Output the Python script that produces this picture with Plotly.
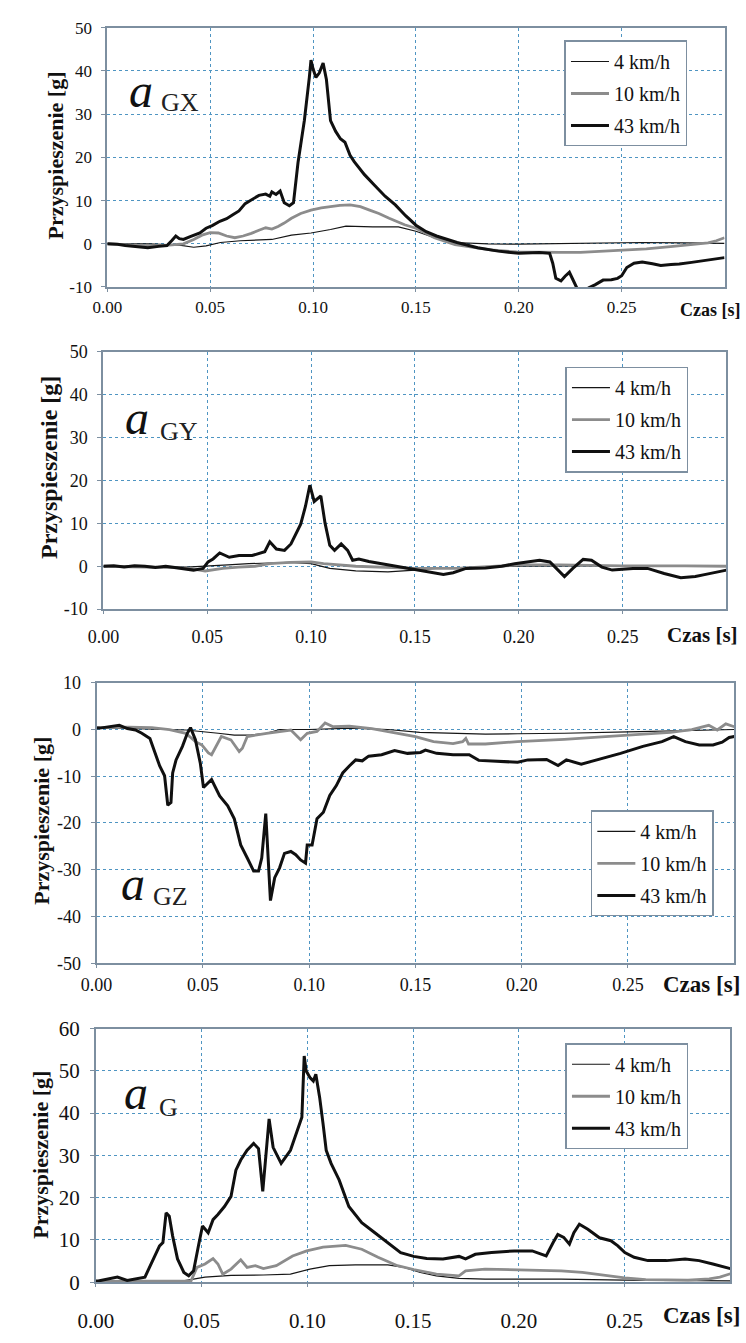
import plotly.graph_objects as go

W, H = 746, 1343

# ---------------- data ----------------
series_names = ["4 km/h", "10 km/h", "43 km/h"]

# Panel 1: a_GX
gx_t4 = [0, 0.02, 0.035, 0.042, 0.048, 0.055, 0.0647, 0.072, 0.08, 0.0895, 0.099, 0.1085, 0.116, 0.129, 0.1415, 0.15, 0.159, 0.169, 0.185, 0.2, 0.22, 0.24, 0.26, 0.28, 0.3]
gx_v4 = [0, 0, -0.3, -0.8, -0.5, 0.3, 0.7, 0.8, 1.0, 2.0, 2.5, 3.3, 4.1, 3.9, 3.9, 2.9, 1.4, 0.3, 0.0, -0.1, 0.0, 0.1, 0.3, 0.2, 0.1]
gx_t10 = [0, 0.01, 0.02, 0.03, 0.037, 0.042, 0.046, 0.05, 0.054, 0.058, 0.062, 0.066, 0.07, 0.074, 0.077, 0.08, 0.083, 0.086, 0.0895, 0.094, 0.099, 0.104, 0.1085, 0.113, 0.118, 0.123, 0.1275, 0.132, 0.137, 0.1445, 0.15, 0.159, 0.169, 0.179, 0.188, 0.199, 0.21, 0.22, 0.23, 0.24, 0.25, 0.262, 0.275, 0.285, 0.292, 0.296, 0.3]
gx_v10 = [0, -0.3, -0.5, -0.3, 0, 1.0, 2.0, 2.6, 2.5, 1.8, 1.4, 1.8, 2.4, 3.2, 3.7, 3.4, 4.0, 4.8, 5.9, 7.0, 7.8, 8.3, 8.6, 8.9, 9.0, 8.6, 7.8, 7.0, 5.9, 4.4, 3.6, 1.4, -0.2, -0.9, -1.5, -1.9, -2.0, -2.0, -2.0, -1.7, -1.5, -1.2, -0.6, -0.2, 0.2, 0.7, 1.4]
gx_t43 = [0, 0.005, 0.0087, 0.015, 0.0197, 0.025, 0.029, 0.0315, 0.0333, 0.035, 0.037, 0.04, 0.045, 0.048, 0.051, 0.0547, 0.058, 0.061, 0.064, 0.067, 0.07, 0.0737, 0.077, 0.079, 0.080, 0.082, 0.084, 0.086, 0.0885, 0.0905, 0.0927, 0.0958, 0.0982, 0.099, 0.1, 0.1014, 0.103, 0.1049, 0.1065, 0.1085, 0.111, 0.1133, 0.1155, 0.118, 0.12, 0.125, 0.13, 0.135, 0.14, 0.145, 0.15, 0.155, 0.16, 0.17, 0.18, 0.19, 0.2, 0.205, 0.21, 0.215, 0.2165, 0.218, 0.2205, 0.2225, 0.2246, 0.2265, 0.2285, 0.231, 0.234, 0.237, 0.241, 0.245, 0.248, 0.25, 0.2525, 0.256, 0.26, 0.265, 0.269, 0.274, 0.278, 0.284, 0.289, 0.295, 0.3]
gx_v43 = [0, -0.1, -0.4, -0.7, -0.9, -0.6, -0.4, 0.8, 1.8, 1.2, 1.0, 1.6, 2.5, 3.6, 4.2, 5.2, 5.8, 6.7, 7.6, 9.3, 10.2, 11.2, 11.5, 11.0, 12.0, 11.4, 12.2, 9.5, 8.8, 9.5, 18.8, 28.6, 38.5, 42.5, 40.5, 38.5, 39.5, 41.8, 38.0, 28.5, 26.0, 24.3, 23.5, 20.5, 19.0, 16.0, 13.5, 11.0, 9.0, 6.5, 4.3, 2.8, 1.8, 0.3, -0.9, -1.7, -2.2, -2.1, -2.0, -2.2, -4.5, -8.0, -8.6, -7.5, -6.6, -8.5, -10.5, -11.2, -10.2, -9.5, -8.4, -8.3, -8.0, -7.4, -5.5, -4.5, -4.2, -4.6, -5.0, -4.8, -4.7, -4.3, -4.0, -3.5, -3.2]

# Panel 2: a_GY
gy_t4 = [0, 0.02, 0.04, 0.05, 0.06, 0.07, 0.08, 0.09, 0.1, 0.109, 0.1215, 0.137, 0.15, 0.16, 0.18, 0.2, 0.23, 0.26, 0.3]
gy_v4 = [0, 0, -0.2, 0, 0.3, 0.6, 0.8, 0.9, 0.6, -0.5, -1.1, -1.3, -0.9, -0.5, -0.2, 0, 0.1, 0, 0]
gy_t10 = [0, 0.02, 0.04, 0.049, 0.0575, 0.065, 0.073, 0.08, 0.09, 0.1, 0.106, 0.1215, 0.137, 0.15, 0.17, 0.19, 0.2, 0.22, 0.25, 0.28, 0.3]
gy_v10 = [0, -0.2, -0.4, -1.1, -0.5, -0.2, 0, 0.6, 0.9, 1.0, 0.6, 0, -0.3, -0.5, -0.5, 0, 0.3, 0.3, 0.1, 0.1, 0]
gy_t43 = [0, 0.005, 0.01, 0.015, 0.02, 0.025, 0.03, 0.035, 0.0434, 0.048, 0.0504, 0.0528, 0.056, 0.0606, 0.0653, 0.0716, 0.0777, 0.0801, 0.0833, 0.0872, 0.0903, 0.095, 0.0973, 0.0994, 0.1015, 0.1047, 0.1067, 0.109, 0.1113, 0.1145, 0.1176, 0.12, 0.123, 0.1278, 0.134, 0.1403, 0.15, 0.1573, 0.1637, 0.1684, 0.1746, 0.184, 0.1918, 0.198, 0.205, 0.21, 0.215, 0.222, 0.226, 0.231, 0.235, 0.24, 0.245, 0.255, 0.262, 0.27, 0.278, 0.285, 0.29, 0.3]
gy_v43 = [0, 0.1, -0.2, 0.1, 0, -0.3, 0, -0.4, -0.9, -0.5, 1.0, 1.7, 3.1, 2.1, 2.5, 2.5, 3.4, 5.7, 4.0, 3.7, 5.2, 9.8, 14.0, 18.9, 15.1, 16.4, 10.1, 4.9, 3.7, 5.2, 3.7, 1.4, 1.7, 1.1, 0.6, 0.0, -0.7, -1.3, -1.9, -1.5, -0.5, -0.4, 0.0, 0.6, 1.1, 1.4, 1.0, -2.4, -0.5, 1.6, 1.4, -0.2, -0.9, -0.5, -0.5, -1.7, -2.7, -2.4, -1.9, -0.9]

# Panel 3: a_GZ
gz_t4 = [0, 0.02, 0.042, 0.0572, 0.0648, 0.0724, 0.08, 0.0861, 0.1, 0.12, 0.137, 0.152, 0.1677, 0.183, 0.198, 0.22, 0.25, 0.28, 0.3]
gz_v4 = [0.4, 0.2, -0.1, -0.8, -1.2, -1.2, -0.8, 0.0, 0.0, 0.3, 0.0, -0.6, -0.8, -1.0, -0.9, -0.8, -0.5, -0.2, 0.0]
gz_t10 = [0, 0.015, 0.026, 0.0343, 0.042, 0.0465, 0.0495, 0.0526, 0.0541, 0.0564, 0.0587, 0.0632, 0.0671, 0.0686, 0.0709, 0.08, 0.0914, 0.096, 0.0991, 0.1037, 0.1075, 0.1113, 0.1189, 0.1295, 0.1372, 0.15, 0.1585, 0.1677, 0.1722, 0.1737, 0.175, 0.1829, 0.198, 0.22, 0.25, 0.27, 0.28, 0.288, 0.292, 0.296, 0.3]
gz_v10 = [0.4, 0.5, 0.4, 0.0, -0.8, -2.6, -3.3, -5.0, -5.4, -3.3, -1.5, -2.2, -4.7, -4.0, -1.5, -0.8, -0.1, -2.2, -0.8, -0.4, 1.4, 0.6, 0.7, 0.2, -0.4, -1.5, -2.6, -3.0, -2.6, -1.9, -3.1, -3.1, -2.6, -2.1, -1.2, -0.6, 0.0, 0.9, -0.1, 1.2, 0.6]
gz_t43 = [0, 0.0015, 0.0107, 0.0145, 0.0183, 0.0213, 0.0251, 0.0274, 0.0297, 0.032, 0.0335, 0.035, 0.0358, 0.0374, 0.0404, 0.0427, 0.0442, 0.0465, 0.0488, 0.0503, 0.0526, 0.0541, 0.0579, 0.0617, 0.0648, 0.0678, 0.0709, 0.0739, 0.0762, 0.0777, 0.0796, 0.0808, 0.0818, 0.0838, 0.0861, 0.0884, 0.0914, 0.0937, 0.096, 0.0983, 0.0991, 0.1014, 0.1037, 0.1067, 0.1097, 0.1128, 0.1158, 0.1189, 0.1219, 0.125, 0.128, 0.1341, 0.1402, 0.1463, 0.1524, 0.1547, 0.16, 0.1677, 0.1753, 0.1798, 0.189, 0.1981, 0.2029, 0.2117, 0.2171, 0.221, 0.228, 0.2355, 0.2465, 0.257, 0.266, 0.2715, 0.277, 0.2835, 0.29, 0.2943, 0.2976, 0.3]
gz_v43 = [0.3, 0.3, 0.9, 0.2, -0.1, -0.8, -1.9, -5.0, -7.8, -9.9, -16.2, -15.6, -9.3, -6.5, -3.6, -0.8, 0.4, -2.2, -7.2, -12.4, -11.4, -10.7, -14.2, -16.3, -19.1, -24.7, -27.5, -30.3, -30.3, -27.5, -18.0, -27.5, -36.6, -31.7, -29.6, -26.5, -26.1, -26.8, -27.9, -28.6, -24.7, -24.7, -19.1, -17.7, -14.1, -12.0, -9.3, -7.8, -6.5, -6.7, -5.7, -5.4, -4.5, -5.1, -4.9, -4.4, -5.1, -5.4, -5.4, -6.6, -6.8, -7.0, -6.5, -6.4, -7.7, -6.5, -7.4, -6.5, -5.1, -3.6, -2.6, -1.5, -2.6, -3.3, -3.3, -2.7, -1.7, -1.5]

# Panel 4: a_G
g_t4 = [0, 0.02, 0.04, 0.0516, 0.0639, 0.0792, 0.092, 0.1012, 0.1104, 0.1227, 0.138, 0.1457, 0.1534, 0.161, 0.1717, 0.184, 0.1978, 0.22, 0.25, 0.28, 0.3]
g_v4 = [0.1, 0.1, 0.2, 1.2, 1.6, 1.7, 1.9, 3.1, 3.9, 4.1, 4.1, 3.5, 2.3, 1.5, 0.9, 0.7, 0.7, 0.7, 0.5, 0.3, 0.3]
g_t10 = [0, 0.02, 0.045, 0.0478, 0.0516, 0.0554, 0.0577, 0.06, 0.0639, 0.0685, 0.0715, 0.0754, 0.0792, 0.0853, 0.093, 0.0997, 0.1074, 0.1181, 0.1257, 0.1334, 0.1426, 0.1503, 0.161, 0.1717, 0.1748, 0.184, 0.1978, 0.21, 0.22, 0.23, 0.24, 0.25, 0.26, 0.27, 0.28, 0.29, 0.295, 0.3]
g_v10 = [0.2, 0.2, 0.3, 3.5, 4.3, 5.6, 4.3, 1.9, 3.1, 5.3, 3.5, 3.9, 3.2, 3.9, 6.2, 7.4, 8.3, 8.7, 7.8, 5.9, 3.9, 3.0, 1.9, 1.5, 2.7, 3.1, 3.0, 2.8, 2.7, 2.3, 1.7, 1.0, 0.6, 0.5, 0.5, 0.8, 1.2, 2.0]
g_t43 = [0, 0.0011, 0.0102, 0.0148, 0.0232, 0.0271, 0.0301, 0.0317, 0.0332, 0.0347, 0.0363, 0.0386, 0.0416, 0.0439, 0.0462, 0.0485, 0.0504, 0.0531, 0.0554, 0.0577, 0.0608, 0.0639, 0.0662, 0.0685, 0.0715, 0.0746, 0.0769, 0.0789, 0.0807, 0.0819, 0.0838, 0.0876, 0.092, 0.0951, 0.0974, 0.0985, 0.0994, 0.1012, 0.1028, 0.104, 0.1058, 0.1074, 0.1089, 0.1112, 0.115, 0.1196, 0.1257, 0.1319, 0.138, 0.1441, 0.1503, 0.1564, 0.1641, 0.1717, 0.1748, 0.1794, 0.1871, 0.1978, 0.2063, 0.2129, 0.2162, 0.2184, 0.2212, 0.2239, 0.226, 0.2286, 0.2326, 0.2381, 0.2435, 0.2468, 0.2501, 0.2545, 0.261, 0.2698, 0.2786, 0.2852, 0.2917, 0.2972, 0.3]
g_v43 = [0.3, 0.3, 1.2, 0.4, 1.2, 5.5, 8.6, 9.4, 16.4, 15.6, 10.9, 5.5, 2.3, 1.5, 2.7, 8.6, 13.3, 11.7, 14.8, 16.0, 17.9, 20.3, 26.5, 28.9, 31.2, 32.8, 31.6, 21.5, 31.9, 38.6, 31.9, 28.1, 31.2, 35.9, 39.0, 53.5, 50.0, 48.4, 47.6, 49.2, 43.7, 37.5, 31.2, 28.1, 24.2, 17.9, 14.1, 11.7, 9.4, 7.0, 6.1, 5.6, 5.5, 6.1, 5.5, 6.6, 7.0, 7.4, 7.4, 6.2, 9.4, 11.3, 10.6, 9.0, 11.7, 13.7, 12.5, 10.5, 9.8, 8.6, 7.0, 5.9, 5.1, 5.1, 5.5, 5.1, 4.3, 3.5, 3.2]

# axis ticks
x_ticks = [0.00, 0.05, 0.10, 0.15, 0.20, 0.25]
x_ticktext = ["0.00", "0.05", "0.10", "0.15", "0.20", "0.25"]
y_ticks_gx = [-10, 0, 10, 20, 30, 40, 50]
y_ticks_gy = [-10, 0, 10, 20, 30, 40, 50]
y_ticks_gz = [-50, -40, -30, -20, -10, 0, 10]
y_ticks_g = [0, 10, 20, 30, 40, 50, 60]

panel_labels = [("a", "GX"), ("a", "GY"), ("a", "GZ"), ("a", "G")]
y_title = "Przyspieszenie [g]"
x_title = "Czas [s]"

# ---------------- layout geometry (pixels) ----------------
panels = [
    dict(x=(91.5, 724), y=(16, 280), yt=y_ticks_gx,
         data=[(gx_t4, gx_v4), (gx_t10, gx_v10), (gx_t43, gx_v43)],
         tickfont=17, standoff=1, legend=(560, 29), a=(126, 80), sub=(166, 92),
         ytitle=(38, 146, 22), czas=(710, 303, 18)),
    dict(x=(87.5, 726), y=(346, 608), yt=y_ticks_gy,
         data=[(gy_t4, gy_v4), (gy_t10, gy_v10), (gy_t43, gy_v43)],
         tickfont=18, standoff=7, legend=(561, 361), a=(122, 413), sub=(165, 427),
         ytitle=(31, 464, 24), czas=(701, 634, 21)),
    dict(x=(80.5, 734), y=(683, 968.5), yt=y_ticks_gz,
         data=[(gz_t4, gz_v4), (gz_t10, gz_v10), (gz_t43, gz_v43)],
         tickfont=18, standoff=1, legend=(587, 813), a=(118, 887), sub=(156, 901),
         ytitle=(24, 823, 22), czas=(700, 990, 23)),
    dict(x=(79.8, 730), y=(1035, 1293.3), yt=y_ticks_g,
         data=[(g_t4, g_v4), (g_t10, g_v10), (g_t43, g_v43)],
         tickfont=21, standoff=16, legend=(561, 1050), a=(121, 1100), sub=(154, 1115),
         ytitle=(23, 1163, 22), czas=(700, 1327, 23)),
]

def fx(px):
    return px / W

def fy(py):
    return 1 - py / H

line_styles = [
    dict(color="#151515", width=1.2),
    dict(color="#8c8c8c", width=2.8),
    dict(color="#101010", width=3),
]

SERIF = "Liberation Serif"
FRAME = "#7d8fa0"
GRID = "#4f95c2"

fig = go.Figure()
annotations = []
layout_extra = {}

for i, p in enumerate(panels):
    n = i + 1
    xa = "x" if n == 1 else f"x{n}"
    ya = "y" if n == 1 else f"y{n}"
    leg = "legend" if n == 1 else f"legend{n}"
    for k, (tt, vv) in enumerate(p["data"]):
        fig.add_trace(go.Scatter(
            x=tt, y=vv, mode="lines", name=series_names[k],
            line=line_styles[k], xaxis=xa, yaxis=ya, legend=leg,
            legendgroup=f"g{n}_{k}", showlegend=True,
        ))
    yt = p["yt"]
    layout_extra[f"xaxis{'' if n == 1 else n}"] = dict(
        domain=[fx(p["x"][0]), fx(p["x"][1])], anchor=ya, range=[0, 0.3],
        tickvals=x_ticks, ticktext=x_ticktext, showgrid=True, gridcolor=GRID,
        griddash="dot", gridwidth=1, showline=True, linecolor=FRAME, linewidth=2,
        mirror=True, ticks="outside", ticklen=3, tickcolor=FRAME,
        tickfont=dict(family=SERIF, size=p["tickfont"], color="#111"),
        ticklabelstandoff=p["standoff"], zeroline=False, fixedrange=True,
    )
    layout_extra[f"yaxis{'' if n == 1 else n}"] = dict(
        domain=[fy(p["y"][1]), fy(p["y"][0])], anchor=xa, range=[yt[0], yt[-1]],
        tickvals=yt, ticktext=[str(v) for v in yt], showgrid=True, gridcolor=GRID,
        griddash="dot", gridwidth=1, showline=True, linecolor=FRAME, linewidth=2,
        mirror=True, ticks="outside", ticklen=4, tickcolor=FRAME,
        tickfont=dict(family=SERIF, size=p["tickfont"], color="#111"),
        ticklabelstandoff=6, zeroline=False, fixedrange=True,
    )
    layout_extra[leg] = dict(
        x=fx(p["legend"][0]), y=fy(p["legend"][1]), xanchor="left", yanchor="top",
        xref="paper", yref="paper", bgcolor="white", bordercolor=FRAME, borderwidth=1.5,
        font=dict(family=SERIF, size=20, color="#111"), itemwidth=38,
        tracegroupgap=3, traceorder="grouped",
    )
    annotations.append(dict(
        text=panel_labels[i][0], x=fx(p["a"][0]), y=fy(p["a"][1]), xref="paper", yref="paper",
        showarrow=False, xanchor="center", yanchor="middle",
        font=dict(family=SERIF, size=48, color="#111", style="italic"),
    ))
    annotations.append(dict(
        text=panel_labels[i][1], x=fx(p["sub"][0]), y=fy(p["sub"][1]), xref="paper", yref="paper",
        showarrow=False, xanchor="center", yanchor="middle",
        font=dict(family=SERIF, size=26, color="#222"),
    ))
    annotations.append(dict(
        text=f"<b>{y_title}</b>", x=fx(p["ytitle"][0]), y=fy(p["ytitle"][1]), xref="paper", yref="paper",
        showarrow=False, xanchor="center", yanchor="middle", textangle=-90,
        font=dict(family=SERIF, size=p["ytitle"][2], color="#111"),
    ))
    annotations.append(dict(
        text=f"<b>{x_title}</b>", x=fx(p["czas"][0]), y=fy(p["czas"][1]), xref="paper", yref="paper",
        showarrow=False, xanchor="center", yanchor="middle",
        font=dict(family=SERIF, size=p["czas"][2], color="#111"),
    ))

fig.update_layout(
    width=W, height=H, margin=dict(l=0, r=0, t=0, b=0),
    paper_bgcolor="white", plot_bgcolor="white",
    font=dict(family=SERIF, color="#111"),
    annotations=annotations, **layout_extra,
)

fig.write_html("out.html")
